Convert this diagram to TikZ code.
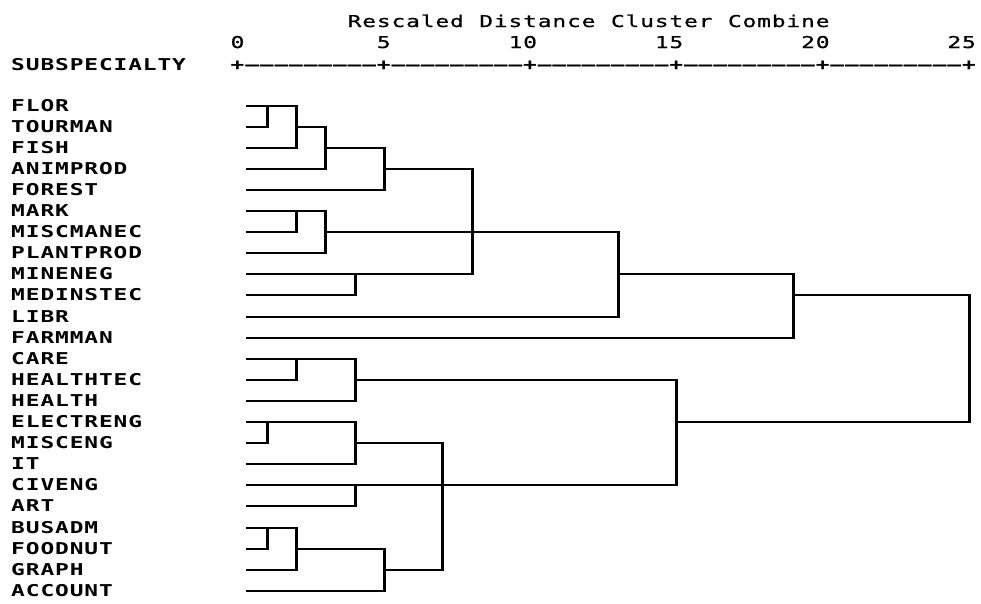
\documentclass[tikz,border=0pt]{standalone}
\usepackage{fontspec}
\newfontfamily\dendfont[FakeStretch=1.4, BoldFeatures={FakeStretch=1.4}]{DejaVu Sans Mono}
\newfontfamily\scalefont[FakeStretch=1.4, FakeBold=0.8]{DejaVu Sans Mono}
\newlength\cellw
\setlength\cellw{14.63pt}
\makeatletter
% set a string on a fixed character grid, one cell per character
\newcommand\cellsx[1]{\expandafter\cells@a#1\relax}
\def\cells@a#1{\ifx\relax#1\else\makebox[\cellw][c]{#1}\expandafter\cells@a\fi}
\makeatother
% distance scale and row positions, snapped to whole points
\newcommand\px[1]{round(237.5+29.26*#1)+0.5}
\newcommand\py[1]{round(105.5+21.1*#1)}
% elbow join of two clusters (#1 upper, #2 lower) at merge point #3
\newcommand\joinup[3]{%
  \draw[hline] (#1) -- (#1 -| #3);
  \draw[hline] (#2) -- (#2 -| #3);
  \draw[vline] (#1 -| #3) -- (#2 -| #3);}
\begin{document}
\begin{tikzpicture}[x=1pt,y=-1pt,
  hline/.style={line width=2pt},
  vline/.style={line width=3pt, shorten <=-1pt, shorten >=-1pt},
  txt/.style={inner sep=0pt, outer sep=0pt, font=\scalefont\fontsize{16.3pt}{18pt}\selectfont},
  lab/.style={inner sep=0pt, outer sep=0pt, font=\dendfont\fontsize{16.3pt}{18pt}\selectfont\bfseries}]
\useasboundingbox (0,0) rectangle (981,603);

% scale header
\node[txt, anchor=base west] (title) at (347.2,27) {\cellsx{Rescaled~Distance~Cluster~Combine}};
\foreach \v in {0,5,10,15,20,25}
  \node[txt, anchor=base east] (t\v) at ({237.5+29.26*\v+7.315},48) {\cellsx{\v}};
\node[lab, anchor=base west] (ruler) at (230.185,70)
  {\cellsx{+–––––––––+–––––––––+–––––––––+–––––––––+–––––––––+}};
\node[lab, anchor=base west] (head) at (10.8,70) {\cellsx{SUBSPECIALTY}};

% case labels and leaf starts
\foreach \lab [count=\i from 0] in {FLOR,TOURMAN,FISH,ANIMPROD,FOREST,MARK,MISCMANEC,
  PLANTPROD,MINENEG,MEDINSTEC,LIBR,FARMMAN,CARE,HEALTHTEC,HEALTH,ELECTRENG,MISCENG,
  IT,CIVENG,ART,BUSADM,FOODNUT,GRAPH,ACCOUNT} {
  \node[lab, anchor=base west] (n\i) at (10.8,{\py{\i}+5.5}) {\cellsx{\lab}};
  \coordinate (s\i) at (246,{\py{\i}});
}

% merge points: (distance, row of the outgoing line)
\coordinate (a1) at ({\px{1}},{\py{0}});
\coordinate (a2) at ({\px{2}},{\py{1}});
\coordinate (a3) at ({\px{3}},{\py{2}});
\coordinate (a4) at ({\px{5}},{\py{3}});
\coordinate (b1) at ({\px{2}},{\py{5}});
\coordinate (b2) at ({\px{3}},{\py{6}});
\coordinate (c1) at ({\px{4}},{\py{8}});
\coordinate (a5) at ({\px{8}},{\py{6}});
\coordinate (a6) at ({\px{13}},{\py{8}});
\coordinate (a7) at ({\px{19}},{\py{9}});
\coordinate (e1) at ({\px{2}},{\py{12}});
\coordinate (e2) at ({\px{4}},{\py{13}});
\coordinate (f1) at ({\px{1}},{\py{15}});
\coordinate (f2) at ({\px{4}},{\py{16}});
\coordinate (g1) at ({\px{4}},{\py{18}});
\coordinate (h1) at ({\px{1}},{\py{20}});
\coordinate (h2) at ({\px{2}},{\py{21}});
\coordinate (h3) at ({\px{5}},{\py{22}});
\coordinate (f3) at ({\px{7}},{\py{18}});
\coordinate (e3) at ({\px{15}},{\py{15}});
\coordinate (root) at ({\px{25}},{\py{12}});

% upper branch
\joinup{s0}{s1}{a1}
\joinup{a1}{s2}{a2}
\joinup{a2}{s3}{a3}
\joinup{a3}{s4}{a4}
\joinup{s5}{s6}{b1}
\joinup{b1}{s7}{b2}
\joinup{s8}{s9}{c1}
\joinup{a4}{c1}{a5}
\joinup{b2}{s10}{a6}
\draw[hline] (a5) -- (a5 -| a6);
\joinup{a6}{s11}{a7}

% lower branch
\joinup{s12}{s13}{e1}
\joinup{e1}{s14}{e2}
\joinup{s15}{s16}{f1}
\joinup{f1}{s17}{f2}
\joinup{s18}{s19}{g1}
\joinup{s20}{s21}{h1}
\joinup{h1}{s22}{h2}
\joinup{h2}{s23}{h3}
\joinup{f2}{h3}{f3}
\draw[hline] (g1) -- (g1 -| f3);
\joinup{e2}{f3}{e3}

% root
\joinup{a7}{e3}{root}
\end{tikzpicture}
\end{document}
